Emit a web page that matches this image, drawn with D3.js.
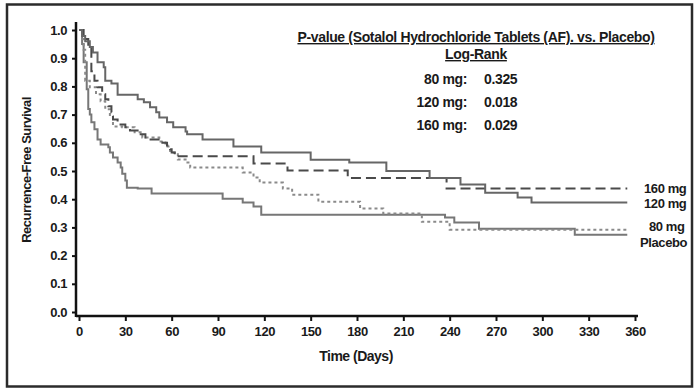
<!DOCTYPE html>
<html><head><meta charset="utf-8">
<script src="https://cdn.jsdelivr.net/npm/d3@7"></script>
<style>
html,body{margin:0;padding:0;background:#fff;}
svg{display:block;}
text{font-family:"Liberation Sans",Arial,Helvetica,sans-serif;fill:#1a1a1a;}
</style></head>
<body>
<svg id="chart" width="700" height="392"></svg>
<script>
// ---- data ----
const xTicks = [0,30,60,90,120,150,180,210,240,270,300,330,360];
const yTicks = [0,0.1,0.2,0.3,0.4,0.5,0.6,0.7,0.8,0.9,1.0];
const seriesNames = ["160 mg","120 mg","80 mg","Placebo"];
// [day, survival] step points (step-after)
const mg120 = [[0,1.0],[2,0.979],[4,0.96],[7,0.94],[9,0.92],[12,0.886],[16,0.868],[17,0.82],[21,0.81],[25,0.77],[38,0.754],[42,0.744],[46,0.726],[50,0.708],[52,0.69],[57,0.673],[61,0.655],[69,0.64],[70,0.63],[80,0.612],[100,0.587],[118,0.566],[150,0.54],[175,0.53],[199,0.50],[227,0.475],[247,0.452],[263,0.423],[284,0.406],[293,0.388],[355,0.388]];
const mg160 = [[0,1.0],[3,0.968],[6,0.943],[8,0.854],[10,0.82],[12,0.797],[15,0.772],[17,0.754],[19,0.73],[21,0.708],[22,0.683],[25,0.665],[30,0.655],[33,0.644],[39,0.63],[43,0.612],[54,0.60],[57,0.59],[59,0.577],[60,0.566],[62,0.552],[113,0.527],[135,0.502],[174,0.475],[238,0.438],[355,0.438]];
const mg80 = [[0,1.0],[2,0.968],[3,0.93],[4,0.82],[7,0.797],[11,0.772],[14,0.747],[17,0.719],[20,0.694],[22,0.658],[28,0.655],[36,0.637],[41,0.619],[52,0.605],[56,0.587],[59,0.566],[64,0.541],[69,0.53],[72,0.512],[106,0.495],[113,0.477],[117,0.459],[132,0.438],[138,0.416],[155,0.391],[182,0.367],[197,0.349],[222,0.32],[240,0.292],[355,0.292]];
const placebo = [[0,1.0],[2,0.95],[3,0.886],[5,0.79],[6,0.72],[7,0.70],[8,0.673],[10,0.648],[12,0.612],[14,0.594],[19,0.584],[20,0.566],[22,0.548],[25,0.53],[27,0.512],[28,0.49],[30,0.466],[31,0.441],[38,0.438],[47,0.42],[93,0.402],[106,0.388],[113,0.374],[118,0.345],[237,0.335],[243,0.317],[259,0.295],[321,0.274],[355,0.274]];
const pLabels = ["80 mg:","120 mg:","160 mg:"];
const pValues = ["0.325","0.018","0.029"];

// ---- drawing ----
const svg = d3.select("#chart");
svg.append("rect").attr("x",7).attr("y",4.5).attr("width",685).attr("height",382)
  .attr("fill","#fff").attr("stroke","#2b2b2b").attr("stroke-width",2.5);

const x = d3.scaleLinear().domain([0,360]).range([79,635]);
const y = d3.scaleLinear().domain([0,1]).range([312,30]);

const FS = 14, LS = "-0.35";

// axes
const xAxis = svg.append("g").attr("transform","translate(0,316)")
  .call(d3.axisBottom(x).tickValues(xTicks).tickSize(5).tickPadding(6).tickFormat(d3.format("d")));
xAxis.select(".domain").attr("d","M76,0H638").attr("stroke","#111").attr("stroke-width",2.5);
const yAxis = svg.append("g").attr("transform","translate(76,0)")
  .call(d3.axisLeft(y).tickValues(yTicks).tickSize(4).tickPadding(5).tickFormat(d3.format(".1f")));
yAxis.select(".domain").attr("d","M0,22V317").attr("stroke","#111").attr("stroke-width",2.5);
svg.selectAll(".tick line").attr("stroke","#111").attr("stroke-width",2);
svg.selectAll(".tick text").attr("font-size",13).attr("font-weight","bold")
  .attr("font-family","'Liberation Sans',Arial,sans-serif").attr("fill","#1a1a1a").attr("letter-spacing","-0.4");

svg.append("text").attr("x",356).attr("y",361).attr("text-anchor","middle")
  .attr("font-size",FS).attr("font-weight","bold").attr("letter-spacing","-0.5").text("Time (Days)");
svg.append("text").attr("transform","translate(31,170) rotate(-90)").attr("text-anchor","middle")
  .attr("font-size",13).attr("font-weight","bold").attr("letter-spacing","-0.5").text("Recurrence-Free Survival");

// lines
const line = d3.line().x(d=>x(d[0])).y(d=>y(d[1])).curve(d3.curveStepAfter);
const styles = [
  {data:placebo, color:"#777", dash:null, w:2},
  {data:mg80, color:"#8a8a8a", dash:"3,3", w:2},
  {data:mg160, color:"#4a4a4a", dash:"10,5", w:2},
  {data:mg120, color:"#666", dash:null, w:2}
];
styles.forEach(s=>{
  svg.append("path").datum(s.data).attr("d",line).attr("fill","none")
    .attr("stroke",s.color).attr("stroke-width",s.w)
    .attr("stroke-dasharray",s.dash);
});

// end labels
const endLabels = [
  {t:seriesNames[0], x:644, y:193},
  {t:seriesNames[1], x:644, y:208},
  {t:seriesNames[2], x:649, y:231},
  {t:seriesNames[3], x:640, y:247}
];
endLabels.forEach(l=>{
  svg.append("text").attr("x",l.x).attr("y",l.y).attr("font-size",13).attr("font-weight","bold")
    .attr("letter-spacing","-0.4").text(l.t);
});

// p-value box
svg.append("text").attr("x",476).attr("y",42).attr("text-anchor","middle")
  .attr("font-size",FS).attr("font-weight","bold").attr("letter-spacing",LS)
  .attr("text-decoration","underline").text("P-value (Sotalol Hydrochloride Tablets (AF). vs. Placebo)");
svg.append("text").attr("x",476).attr("y",59).attr("text-anchor","middle")
  .attr("font-size",FS).attr("font-weight","bold").attr("letter-spacing",LS)
  .attr("text-decoration","underline").text("Log-Rank");
pLabels.forEach((p,i)=>{
  svg.append("text").attr("x",467).attr("y",84+i*23).attr("text-anchor","end")
    .attr("font-size",FS).attr("font-weight","bold").attr("letter-spacing",LS).text(p);
  svg.append("text").attr("x",484).attr("y",84+i*23)
    .attr("font-size",FS).attr("font-weight","bold").attr("letter-spacing",LS).text(pValues[i]);
});
</script>
</body></html>
